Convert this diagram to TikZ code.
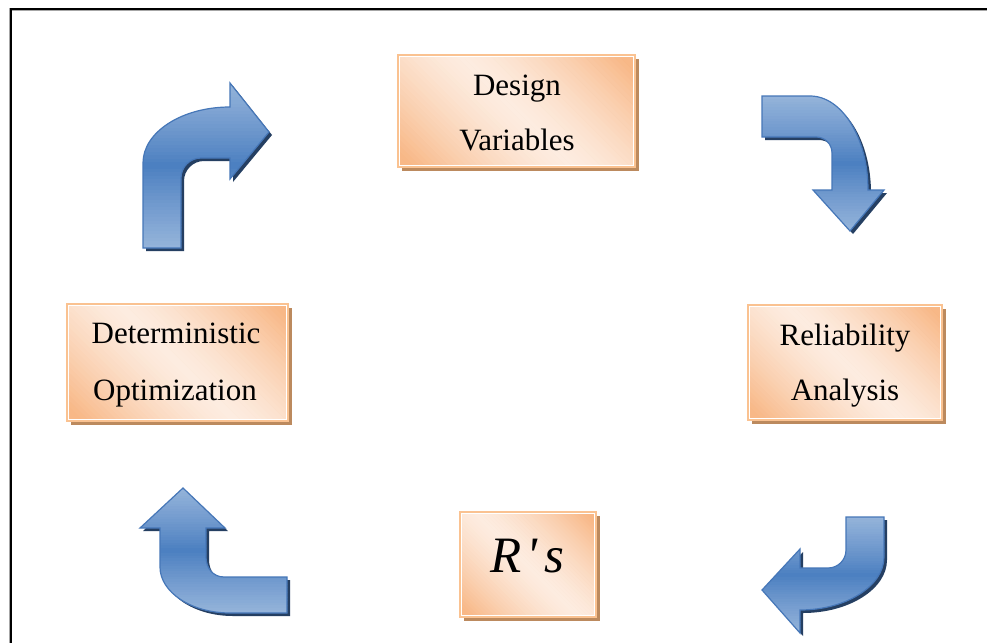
\documentclass[tikz,border=0pt]{standalone}
\usepackage{fontspec}
\setmainfont{Liberation Serif}[Ligatures=TeXOff]
\newfontfamily\lblfont{Liberation Serif}[Ligatures=TeXOff]
\newfontfamily\rsfont{Liberation Serif}[Ligatures=TeXOff]
\definecolor{boxorange}{HTML}{F8B887}
\definecolor{boxlight}{HTML}{FDECE0}
\definecolor{boxedge}{HTML}{FAC291}
\definecolor{boxshadow}{HTML}{BC8A5E}
\definecolor{arrowlight}{HTML}{95B4DA}
\definecolor{arrowdark}{HTML}{4A7EC0}
\definecolor{arrowedge}{HTML}{4677B8}
\definecolor{arrowshadow}{HTML}{253F62}
\tikzset{
  boxshade/.style={fill=boxshadow, draw=none},
  boxline/.style={draw=boxedge, line width=1.6pt, inner sep=0pt},
  lbl/.style={inner sep=0pt, font=\lblfont\upshape\fontsize{31}{36}\selectfont, anchor=base},
  arrowline/.style={draw=arrowedge, line width=1.2pt, line join=miter},
  arrowshade/.style={fill=arrowshadow, draw=none},
  frameline/.style={line width=2pt, draw=black}
}
% gradient box: name, cx, cy, w, h
\newcommand\gradbox[5]{%
  \pgfmathsetmacro\bxa{#2-#4/2}\pgfmathsetmacro\bxb{#2+#4/2}%
  \pgfmathsetmacro\bya{#3-#5/2}\pgfmathsetmacro\byb{#3+#5/2}%
  \fill[boxshade] (\bxa+4,\bya+4) rectangle (\bxb+4,\byb+4);
  \begin{scope}
    \clip (\bxa,\bya) rectangle (\bxb,\byb);
    \pgfmathsetmacro\um{(#4+#5)/2}%
    \pgfmathsetmacro\du{2*\um/60}%
    \foreach \i in {0,...,59}{%
      \pgfmathsetmacro\ca{-\um+\du*\i}%
      \pgfmathsetmacro\cb{-\um+\du*(\i+1)+0.8}%
      \pgfmathsetmacro\rr{max(0.001,abs(2*(\i+0.5)/60-1))}%
      \pgfmathsetmacro\pp{100*min(1,1.15*(\rr)^1.4)}%
      \colorlet{bandc}{boxorange!\pp!boxlight}%
      \pgfmathsetmacro\pa{#2+\ca-300}\pgfmathsetmacro\pb{#2+\ca+300}%
      \pgfmathsetmacro\pc{#2+\cb+300}\pgfmathsetmacro\pd{#2+\cb-300}%
      \pgfmathsetmacro\qa{#3-300}\pgfmathsetmacro\qb{#3+300}%
      \fill[bandc] (\pa,\qa) -- (\pb,\qb) -- (\pc,\qb) -- (\pd,\qa) -- cycle;
    }
  \end{scope}
  \draw[white, line width=0.8pt] (\bxa+1.6,\bya+1.6) rectangle (\bxb-1.6,\byb-1.6);
  \node[boxline, minimum width=#4pt, minimum height=#5pt] (#1) at (#2,#3) {};
}
% gradient arrow: path, ymin, ymax, xmin, xmax
\newcommand\bentarrow[5]{%
  \begin{scope}[shift={(3,3)}]\path[arrowshade] #1;\end{scope}
  \begin{scope}
    \clip #1;
    \pgfmathsetmacro\dy{(#3-#2)/48}%
    \foreach \i in {0,...,47}{%
      \pgfmathsetmacro\ya{#2+\dy*\i}%
      \pgfmathsetmacro\yb{#2+\dy*(\i+1)+0.6}%
      \pgfmathsetmacro\rr{max(0.001,abs(2*(\i+0.5)/48-1))}%
      \pgfmathsetmacro\pp{100*(\rr)^0.9}%
      \colorlet{bandc}{arrowlight!\pp!arrowdark}%
      \fill[bandc] (#4,\ya) rectangle (#5,\yb);
    }
  \end{scope}
  \path[arrowline] #1;}
\begin{document}
\begin{tikzpicture}[x=1pt,y=-1pt]
\useasboundingbox (0,0) rectangle (987,642);
\clip (0,0) rectangle (987,642);
\fill[white] (0,0) rectangle (987,642);
% outer frame
\draw[draw=gray!70, line width=3pt] (10.5,9.5) rectangle (1010,670);
\draw[frameline] (10.5,9.5) rectangle (1010,670);

% boxes
\gradbox{dv}{516.5}{111}{237}{112}
\node[lbl] (dv1) at (517,95) {Design};
\node[lbl] (dv2) at (517,150) {Variables};

\gradbox{do}{177.5}{362.5}{221}{117}
\node[lbl] (do1) at (176,343) {Deterministic};
\node[lbl] (do2) at (175,400) {Optimization};

\gradbox{ra}{845}{362.5}{194}{115}
\node[lbl] (ra1) at (845,345) {Reliability};
\node[lbl] (ra2) at (845,400) {Analysis};

\gradbox{rs}{528}{564.5}{136}{105}
\node[inner sep=0pt, anchor=base, font=\rsfont\itshape\fontsize{51}{60}\selectfont] (rs1) at (527,572) {R\hspace{5pt}'\hspace{7pt}s};

% bent arrows
\bentarrow{(143,248) -- (143,163) .. controls (143,132) and (182,107) .. (230,107)
  -- (230,83) -- (269,132) -- (230,179) -- (230,158) -- (201,158)
  .. controls (190,158) and (181,167) .. (181,178) -- (181,248) -- cycle}{83}{248}{130}{280}

\bentarrow{(762,96) -- (810,96) .. controls (842,96) and (868,138) .. (868,190)
  -- (884,190) -- (850,231) -- (813,190) -- (832,190) -- (832,153)
  .. controls (832,144) and (825,137) .. (816,137) -- (762,137) -- cycle}{96}{231}{750}{895}

\bentarrow{(846,517) -- (884,517) -- (884,557) .. controls (884,586) and (846,610) .. (800,610)
  -- (800,633) -- (762,590) -- (800,549) -- (800,568) -- (828,568)
  .. controls (838,568) and (846,560) .. (846,550) -- cycle}{517}{633}{750}{895}

\bentarrow{(287,577) -- (287,613) -- (230,613) .. controls (191,613) and (160,592) .. (160,567)
  -- (160,528) -- (140,528) -- (183,488) -- (225,528) -- (206,528) -- (206,557)
  .. controls (206,568) and (213,577) .. (224,577) -- cycle}{488}{613}{130}{300}
\end{tikzpicture}
\end{document}
